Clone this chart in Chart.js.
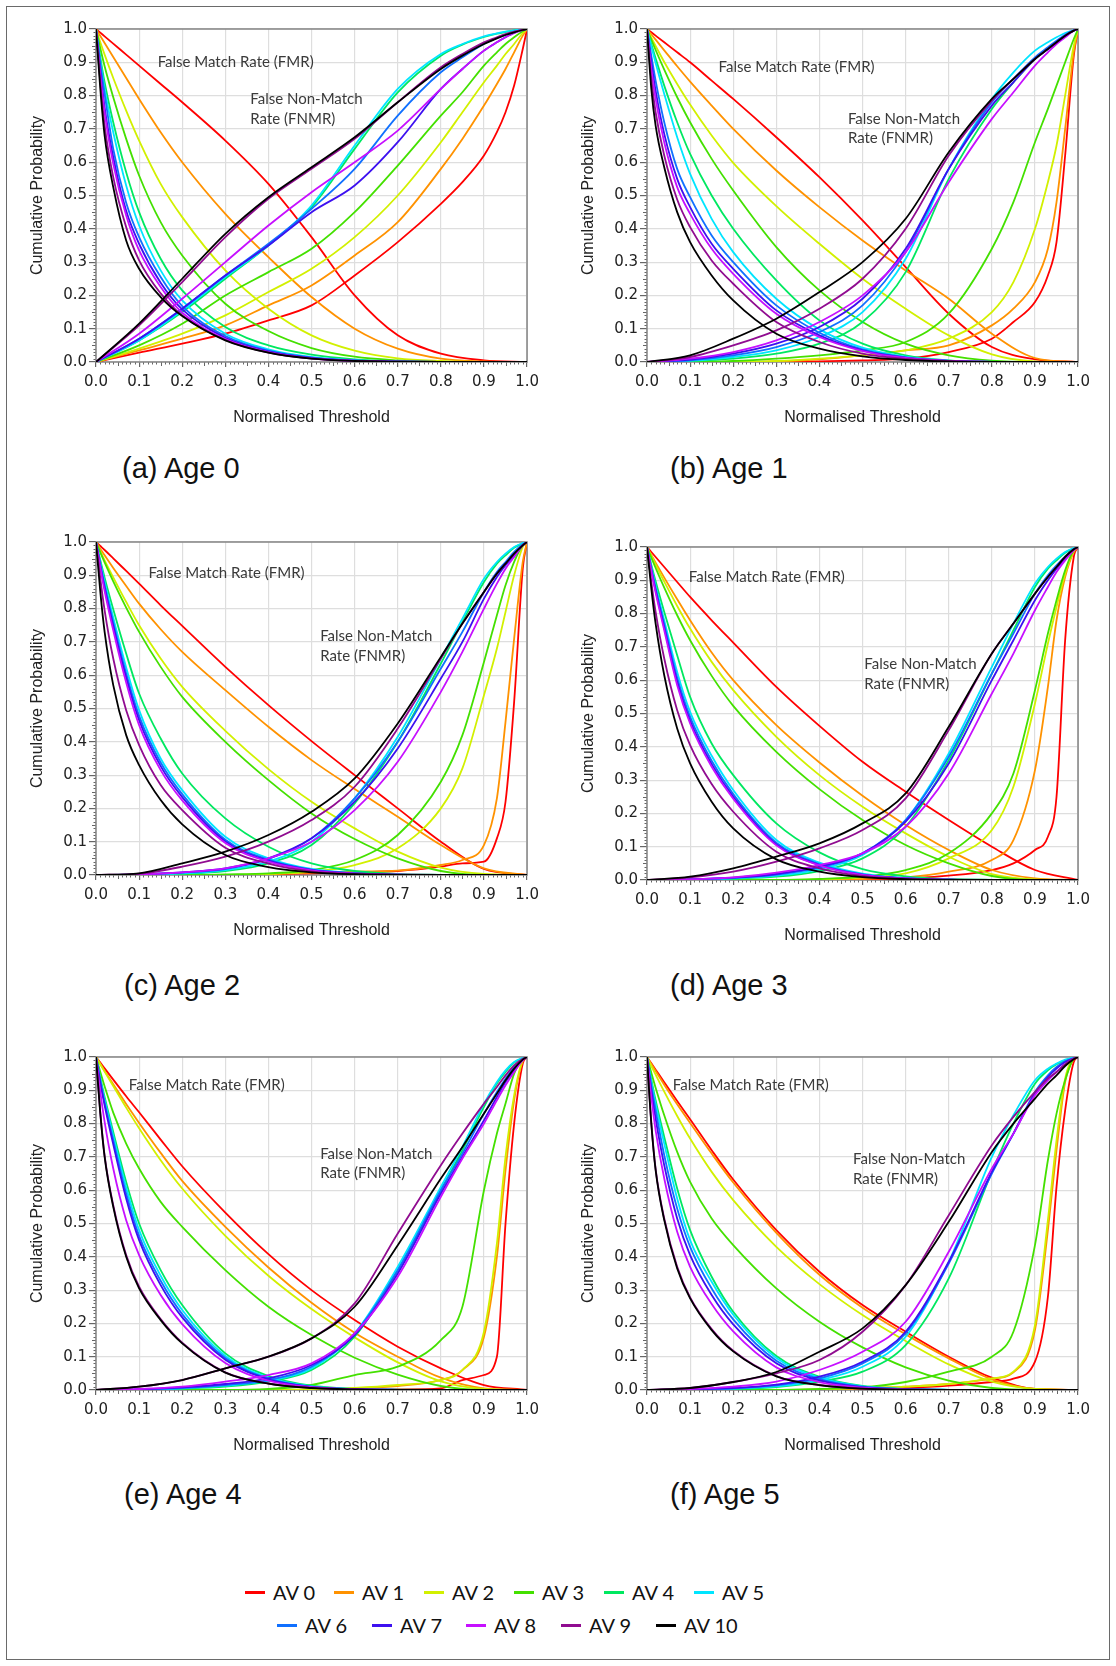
<!DOCTYPE html>
<html lang="en">
<head>
<meta charset="UTF-8">
<title>FMR / FNMR cumulative curves by age</title>
<script src="https://cdn.jsdelivr.net/npm/chart.js"></script>
<style>
    body { margin: 0; background: #fff; }
    .figure { position: relative; width: 1116px; height: 1666px; overflow: hidden; background: #fff; }
    .outline { position: absolute; left: 6px; top: 6px; width: 1104px; height: 1654px; border: 1px solid #6a6a6a; box-sizing: border-box; }
    .figure canvas { position: absolute; }
    .caption { position: absolute; font: 29px "Liberation Sans", Arial, sans-serif; line-height: 29px; color: #111; white-space: nowrap; }
    .legend-item { position: absolute; height: 24px; display: flex; align-items: center; font: 20px Lato, sans-serif; color: #111; white-space: nowrap; }
    .legend-item i { display: inline-block; width: 20px; height: 3px; margin-right: 8px; }
</style>
</head>
<body>
<div class="figure" id="figure">
    <div class="outline"></div>
</div>

<script>
    // thresholds at which each curve was sampled
    const thresholdFmr = [0, 0.01, 0.02, 0.04, 0.07, 0.1, 0.15, 0.2, 0.3, 0.4, 0.5, 0.6, 0.7, 0.8, 0.9, 1];
    const thresholdFnmr = [0, 0.1, 0.2, 0.3, 0.4, 0.5, 0.6, 0.7, 0.8, 0.85, 0.9, 0.93, 0.95, 0.97, 0.99, 1];
    const axisTicks = [0, 0.1, 0.2, 0.3, 0.4, 0.5, 0.6, 0.7, 0.8, 0.9, 1];
    const avLabels = ['AV 0', 'AV 1', 'AV 2', 'AV 3', 'AV 4', 'AV 5', 'AV 6', 'AV 7', 'AV 8', 'AV 9', 'AV 10'];
    const panelCaptions = ['(a) Age 0', '(b) Age 1', '(c) Age 2', '(d) Age 3', '(e) Age 4', '(f) Age 5'];

    // cumulative probability (%), one row per AV level (AV 0 .. AV 10)
    const fmrAge0 = [
        [100, 98.9, 97.8, 95.6, 92.3, 89, 83.5, 78, 66.5, 53.5, 37.5, 20, 8, 2.5, 0.5, 0],
        [100, 97.9, 95.8, 91.6, 85.3, 79, 69, 60, 44.5, 31.5, 19.5, 10, 4, 1, 0.2, 0],
        [100, 96, 92.3, 85.3, 75.5, 66.5, 53.5, 43.5, 27.5, 16, 8, 3.4, 1.1, 0.3, 0, 0],
        [100, 94.2, 88.8, 79.5, 67, 56, 42, 32, 17.5, 9.3, 4.2, 1.6, 0.5, 0, 0, 0],
        [100, 91.5, 84, 72, 57, 45, 31, 21.5, 10.5, 5, 2.2, 0.8, 0.25, 0.05, 0, 0],
        [100, 90.5, 82, 69, 53, 41, 27.5, 18.5, 8.5, 3.8, 1.5, 0.5, 0.15, 0, 0, 0],
        [100, 89.5, 80.5, 64, 47.8, 37.5, 25.5, 16.8, 7.8, 3.4, 1.3, 0.45, 0.12, 0, 0, 0],
        [100, 87.5, 76.5, 61.5, 45.4, 35.5, 23.8, 15.8, 7.3, 3.2, 1.2, 0.4, 0.1, 0, 0, 0],
        [100, 86, 75, 59.5, 44, 33.5, 22.5, 14.8, 6.9, 3, 1.1, 0.35, 0.1, 0, 0, 0],
        [100, 84, 71, 55.5, 40.5, 30.5, 20.6, 14, 6.6, 2.8, 1, 0.3, 0.08, 0, 0, 0],
        [100, 82, 68, 52.5, 36.5, 28, 19.5, 13.8, 6.5, 2.8, 1, 0.3, 0.08, 0, 0, 0]
    ];
    const fnmrAge0 = [
        [0, 2.8, 5.5, 8.5, 12.5, 17, 26, 36, 47.5, 54, 62, 69, 75, 83, 94, 100],
        [0, 3.5, 7, 11, 17, 23, 32, 42, 58, 67, 77, 83.5, 88, 93, 98, 100],
        [0, 4, 8.5, 14, 21, 28, 37.5, 50, 66, 75, 84, 89, 92.5, 95.5, 98.8, 100],
        [0, 5, 11.5, 20, 27, 34, 45, 59, 74, 81, 89, 93, 95.5, 97.5, 99.3, 100],
        [0, 6.5, 15, 25, 35, 46.5, 64, 81, 92, 95.3, 97.6, 98.6, 99.1, 99.6, 99.9, 100],
        [0, 6.5, 15.5, 25.5, 35, 47, 65, 82, 92.5, 95.5, 97.8, 98.7, 99.2, 99.6, 99.9, 100],
        [0, 7, 16, 26, 35.5, 46, 58, 74, 87, 91.5, 95.5, 97.3, 98.3, 99.2, 99.8, 100],
        [0, 7, 16, 26, 35, 45, 53, 66, 82, 88, 93.5, 96, 97.5, 98.8, 99.7, 100],
        [0, 8.5, 19, 30, 41, 51, 60, 69.5, 82, 88, 93.5, 96, 97.5, 98.8, 99.7, 100],
        [0, 11, 24, 37.5, 49, 58, 67, 78, 88.5, 92.5, 96, 97.5, 98.5, 99.2, 99.8, 100],
        [0, 11.5, 25, 38.5, 49.5, 58.5, 67.5, 78, 88, 92, 95.5, 97.2, 98.2, 99, 99.7, 100]
    ];

    const fmrAge1 = [
        [100, 99, 98, 96, 93, 90, 84.5, 79, 67.5, 55.5, 42.5, 28.5, 14.5, 4.5, 0.8, 0],
        [100, 98.4, 96.8, 93.6, 88.8, 84.2, 77, 70, 57.5, 46.5, 36.5, 27.5, 19, 8.5, 1.2, 0],
        [100, 97.4, 94.9, 90.1, 83.5, 77.3, 68, 59.8, 46.8, 35.5, 25, 16, 8, 2.3, 0.2, 0],
        [100, 96.8, 93.7, 87.8, 79.5, 72, 61, 51.5, 34.5, 21.5, 12, 5.5, 2, 0.4, 0, 0],
        [100, 95.5, 91.2, 83, 72, 62.5, 50, 40, 24.5, 12.5, 5.5, 2, 0.5, 0.1, 0, 0],
        [100, 94.8, 89.8, 80.5, 67.5, 56.5, 43, 33, 19, 9.8, 4.3, 1.6, 0.4, 0.05, 0, 0],
        [100, 92, 84.5, 72, 58, 49.5, 38, 30, 17, 8.8, 3.8, 1.4, 0.35, 0.05, 0, 0],
        [100, 90, 81.5, 68.5, 55, 46.5, 35.5, 28, 15.5, 8, 3.5, 1.3, 0.33, 0.05, 0, 0],
        [100, 88, 79, 66, 52.5, 44.5, 34, 26.5, 14.5, 7.5, 3.3, 1.2, 0.3, 0.05, 0, 0],
        [100, 85, 75, 62, 48.8, 40.5, 30.5, 23.5, 12, 6, 2.5, 0.9, 0.25, 0.03, 0, 0],
        [100, 82, 71, 58.5, 45, 36, 26, 18.5, 8.5, 4, 1.7, 0.6, 0.15, 0.02, 0, 0]
    ];
    const fnmrAge1 = [
        [0, 0, 0, 0, 0.2, 0.5, 1, 3, 7, 12, 18, 26, 36, 62, 92, 100],
        [0, 0, 0, 0.2, 0.8, 2, 3.5, 5, 11, 16, 24, 34, 48, 70, 93, 100],
        [0, 0, 0, 0.3, 1, 2, 3.5, 7, 15, 24, 40, 54, 65, 80, 95, 100],
        [0, 0, 0.3, 1, 2, 3.5, 6, 14.5, 34, 48, 66, 76, 83, 90, 97, 100],
        [0, 0.3, 1, 2.5, 5.5, 12, 27, 55, 76, 84, 91, 94, 96, 98, 99.5, 100],
        [0, 0.4, 1.5, 3.5, 7.5, 15, 31, 58, 79, 87, 93.5, 96, 97.5, 98.8, 99.7, 100],
        [0, 0.5, 2, 4.5, 9, 17, 33, 58, 78, 85, 91.5, 94.5, 96.5, 98.3, 99.6, 100],
        [0, 0.7, 2.5, 5.5, 10.5, 19, 34, 58, 77, 84, 91, 94, 96, 98, 99.5, 100],
        [0, 1, 3, 6.5, 12, 20, 33, 54, 73, 81, 89, 93, 95.5, 97.5, 99.5, 100],
        [0, 1.5, 5, 9.5, 16, 25, 40, 62, 78.5, 85, 91, 94, 96, 98, 99.5, 100],
        [0, 2, 7, 13, 21, 30, 43, 63, 79, 85, 91, 94, 96, 98, 99.5, 100]
    ];

    const fmrAge2 = [
        [100, 98.8, 97.6, 95.1, 91.3, 87.5, 81, 74.8, 62.5, 51, 40.2, 30, 20, 10, 1.8, 0],
        [100, 98, 96, 92.2, 86.8, 81.5, 73.8, 67, 55.5, 44.5, 34.5, 25.8, 17.5, 9, 2, 0],
        [100, 97.2, 94.5, 89.4, 82, 75, 65, 56.5, 43.3, 31.8, 22, 14, 7, 2.2, 0.3, 0],
        [100, 96.9, 93.9, 88.2, 80.3, 73, 62.5, 53.5, 40, 28.5, 18.5, 10.8, 5, 1.2, 0, 0],
        [100, 94.5, 89.3, 79.8, 66.5, 54.5, 41, 30.5, 17, 8.5, 3.5, 1.2, 0.3, 0.05, 0, 0],
        [100, 93.8, 88, 77.3, 62.3, 49.5, 35, 25.5, 11.5, 5, 1.8, 0.55, 0.12, 0, 0, 0],
        [100, 93.3, 87, 75.8, 60.5, 47.8, 33.8, 24.3, 10.6, 4.6, 1.6, 0.5, 0.1, 0, 0, 0],
        [100, 92.8, 86.2, 74.8, 59.3, 46.5, 32.7, 23.4, 10.1, 4.3, 1.5, 0.45, 0.1, 0, 0, 0],
        [100, 92.3, 85.3, 73.5, 57.8, 45, 31.5, 22.4, 9.6, 4, 1.4, 0.4, 0.1, 0, 0, 0],
        [100, 89, 79.5, 65, 49.5, 39, 27, 19.5, 8.2, 3.4, 1.1, 0.33, 0.08, 0, 0, 0],
        [100, 85, 73, 57, 42, 33, 22.5, 15.2, 6, 2.4, 0.8, 0.22, 0.05, 0, 0, 0]
    ];
    const fnmrAge2 = [
        [0, 0, 0, 0, 0.2, 0.5, 0.8, 1.2, 2.5, 3.5, 4, 11, 22, 52, 92, 100],
        [0, 0, 0, 0, 0.2, 0.7, 1, 1.3, 3, 4.5, 9, 23, 46, 71, 94, 100],
        [0, 0, 0, 0, 0.3, 1, 3, 8, 20, 32, 54, 68, 79, 90, 98.5, 100],
        [0, 0, 0, 0.2, 0.5, 1.5, 4.5, 12, 28, 42, 64, 78, 87, 94, 99, 100],
        [0, 0.1, 0.4, 1.2, 3.5, 9, 21.5, 40, 63.5, 76, 88, 93.5, 96, 98.3, 99.6, 100],
        [0, 0.1, 0.5, 1.5, 4, 10, 23, 41.5, 65, 77, 89, 94, 96.5, 98.5, 99.7, 100],
        [0, 0.2, 0.7, 1.8, 4.8, 11, 23, 40, 62, 73, 85, 91, 94, 97, 99.3, 100],
        [0, 0.2, 0.8, 2, 5, 11, 22, 38, 59, 70, 83, 89.5, 93, 96, 99, 100],
        [0, 0.2, 0.8, 2, 5, 10, 19.5, 34, 55, 67, 80, 87.5, 92, 95.5, 99, 100],
        [0, 0.4, 2.5, 5.5, 10, 16.5, 26.5, 44, 65, 75.5, 85, 90.5, 93.5, 96.5, 99, 100],
        [0, 0.5, 3.5, 7, 12, 19, 29, 45.5, 65.5, 75.5, 85, 90.5, 93.5, 96.5, 99, 100]
    ];

    const fmrAge3 = [
        [100, 98.5, 97, 94, 89.5, 85, 78, 71.3, 58, 46.3, 35.5, 26.5, 18, 10, 3, 0],
        [100, 97.6, 95.3, 90.8, 84.3, 78, 68.3, 60, 46.5, 35.3, 25.3, 16.5, 9, 3, 0.5, 0],
        [100, 97.3, 94.7, 89.6, 82.3, 75.5, 65.5, 57, 43, 31.5, 22, 14, 7, 1.8, 0.2, 0],
        [100, 96.8, 93.7, 87.8, 79.5, 72, 61.3, 52.3, 38.5, 27.3, 18, 10.5, 5, 1.2, 0, 0],
        [100, 94.7, 89.7, 80.5, 67.5, 55, 41, 31.5, 17, 8.3, 3.3, 1.1, 0.3, 0.05, 0, 0],
        [100, 94, 88.3, 78, 62.5, 50.5, 37.3, 27, 12, 5.2, 1.9, 0.6, 0.13, 0, 0, 0],
        [100, 93.6, 87.6, 76.8, 60.8, 49, 35.8, 25.8, 11.2, 4.8, 1.7, 0.55, 0.12, 0, 0, 0],
        [100, 93.2, 86.9, 75.8, 59.5, 47.8, 34.8, 25, 10.7, 4.5, 1.6, 0.5, 0.1, 0, 0, 0],
        [100, 92.8, 86.3, 75, 58.5, 47, 34, 24.4, 10.4, 4.4, 1.5, 0.48, 0.1, 0, 0, 0],
        [100, 89.5, 80.5, 66.5, 51, 40.5, 28.8, 20.5, 8.5, 3.5, 1.2, 0.35, 0.08, 0, 0, 0],
        [100, 87.5, 77, 61.5, 45.5, 35, 23.5, 15.5, 6.2, 2.5, 0.85, 0.25, 0.05, 0, 0, 0]
    ];
    const fnmrAge3 = [
        [0, 0, 0, 0, 0, 0, 0.5, 1.3, 3, 5, 9, 13, 25, 72, 97, 100],
        [0, 0, 0, 0, 0, 0.3, 0.8, 2.5, 6, 12, 33, 58, 78, 91, 98.5, 100],
        [0, 0, 0, 0, 0.2, 0.8, 2, 6.5, 15, 28, 53, 71, 82, 92, 98.8, 100],
        [0, 0, 0, 0, 0.3, 1, 3, 8, 20, 32, 57, 74, 84, 93, 99, 100],
        [0, 0.1, 0.4, 1, 2.7, 6.5, 16, 36, 62, 75, 88, 93.5, 96, 98.3, 99.6, 100],
        [0, 0.1, 0.5, 1.3, 3.2, 7.5, 18, 38, 64, 77, 89, 94, 96.5, 98.5, 99.7, 100],
        [0, 0.2, 0.6, 1.6, 3.7, 8, 18, 37, 62, 74, 86, 91.5, 94.5, 97.2, 99.4, 100],
        [0, 0.2, 0.7, 1.8, 4, 8, 17.5, 35, 60, 72, 84, 90, 93.5, 96.5, 99.2, 100],
        [0, 0.2, 0.8, 2.2, 4.5, 8, 16, 32, 56, 68, 81, 88, 92.5, 96, 99, 100],
        [0, 0.8, 2.5, 5.5, 9.5, 15, 24.5, 45, 68, 77, 86, 91, 94, 97, 99.3, 100],
        [0, 1, 3.5, 7, 11, 17, 26, 46, 68, 77, 86, 91, 94, 97, 99.3, 100]
    ];

    const fmrAge4 = [
        [100, 98.3, 96.6, 93.2, 88.2, 83.4, 75.2, 67.2, 53.3, 40.8, 30, 21, 13, 6.5, 1.5, 0],
        [100, 97.9, 95.8, 91.8, 85.9, 80.2, 71.2, 62.8, 49, 36.8, 26.2, 17.2, 10, 3.7, 0.5, 0],
        [100, 97.8, 95.6, 91.3, 84.8, 78.6, 69, 60.5, 46.3, 34.3, 24.3, 15.8, 8.3, 2.6, 0.3, 0],
        [100, 95.5, 91.2, 83.3, 74, 66.5, 56.5, 49, 36, 25, 16.5, 9.7, 4.6, 1.2, 0, 0],
        [100, 93.8, 88, 77.5, 62.5, 50, 36, 25.5, 11, 4.2, 1.3, 0.35, 0.07, 0, 0, 0],
        [100, 93.3, 87.2, 76.3, 60.8, 48, 34.3, 24, 10.2, 3.7, 1.1, 0.3, 0.06, 0, 0, 0],
        [100, 92.8, 86.3, 75, 59, 46.3, 32.8, 22.8, 9.6, 3.4, 1, 0.28, 0.05, 0, 0, 0],
        [100, 92.3, 85.5, 73.8, 57.5, 45, 31.5, 21.8, 9.1, 3.2, 0.95, 0.26, 0.05, 0, 0, 0],
        [100, 89.5, 80.5, 66.5, 51, 40.5, 28.5, 19.8, 8.1, 2.8, 0.85, 0.22, 0.04, 0, 0, 0],
        [100, 83.3, 70.4, 55.5, 40.5, 31, 21.3, 14.2, 5.3, 1.95, 0.62, 0.16, 0.03, 0, 0, 0],
        [100, 83, 70, 55, 40, 30.5, 21, 14, 5.2, 1.9, 0.6, 0.15, 0.03, 0, 0, 0]
    ];
    const fnmrAge4 = [
        [0, 0, 0, 0, 0, 0, 0, 0.2, 0.5, 3, 4.5, 10, 50, 80, 98, 100],
        [0, 0, 0, 0, 0, 0.2, 0.5, 1.2, 3, 6, 16, 40, 66, 87, 98.8, 100],
        [0, 0, 0, 0, 0, 0.2, 0.6, 1.5, 3, 6, 17.5, 44, 70, 88.5, 99, 100],
        [0, 0, 0, 0, 0.3, 1.5, 4.5, 7, 15, 25, 60, 77, 86, 95, 99.5, 100],
        [0, 0.1, 0.4, 1, 2.5, 6, 16, 36, 60, 72, 85, 92, 95.5, 98.3, 99.7, 100],
        [0, 0.1, 0.5, 1.3, 2.8, 6.5, 17, 37, 61, 73, 86, 92.5, 96, 98.5, 99.7, 100],
        [0, 0.2, 0.6, 1.5, 3, 7, 17, 36, 60, 71, 83, 89.5, 93.5, 97, 99.4, 100],
        [0, 0.2, 0.8, 1.8, 3.5, 7.5, 16.5, 35, 59, 70, 81, 88, 92.5, 96, 99.2, 100],
        [0, 0.3, 1, 2.5, 4.5, 8, 17, 34, 58, 69.5, 80, 87, 91.5, 95.5, 99, 100],
        [0, 1, 3, 6.5, 10, 15.5, 26, 47, 67.5, 77, 86, 91, 94.5, 97.5, 99.5, 100],
        [0, 1, 3, 6.5, 10, 15.5, 25, 43.5, 63.5, 73, 83, 89, 93, 96.5, 99.2, 100]
    ];

    const fmrAge5 = [
        [100, 98.1, 96.2, 92.4, 86.8, 81.3, 72, 63.2, 48, 35.5, 25.5, 17.5, 10, 3.7, 0.3, 0],
        [100, 97.9, 95.8, 91.7, 85.8, 80.2, 71, 62.3, 47.2, 34.6, 24.7, 16.7, 9.5, 3.2, 0.3, 0],
        [100, 97.3, 94.7, 89.6, 82.3, 75.5, 65.5, 57, 43, 31.8, 22.5, 14.7, 7.7, 2.5, 0.3, 0],
        [100, 95.3, 90.8, 82.5, 71.5, 62.5, 51.5, 43.5, 30.5, 20.5, 12.8, 6.8, 2.8, 0.6, 0, 0],
        [100, 93.3, 87, 76, 60.5, 48, 34, 23.5, 10.2, 4, 1.2, 0.33, 0.06, 0, 0, 0],
        [100, 92.6, 85.8, 74, 57.5, 45, 32.5, 22.6, 9.6, 3.7, 1.1, 0.3, 0.05, 0, 0, 0],
        [100, 91.5, 84, 70.5, 54.5, 43, 30.5, 21.2, 8.8, 3.3, 1, 0.27, 0.05, 0, 0, 0],
        [100, 90, 81.5, 67.5, 51.5, 40.5, 28.5, 19.7, 8, 2.9, 0.88, 0.24, 0.04, 0, 0, 0],
        [100, 88, 78, 63.5, 47.5, 37, 25.8, 17.6, 6.8, 2.4, 0.72, 0.2, 0.03, 0, 0, 0],
        [100, 80.3, 66.4, 51.5, 37, 27.8, 18.3, 11.8, 4.2, 1.5, 0.42, 0.1, 0.02, 0, 0, 0],
        [100, 80, 66, 51, 36.5, 27.5, 18, 11.6, 4.1, 1.45, 0.4, 0.1, 0.02, 0, 0, 0]
    ];
    const fnmrAge5 = [
        [0, 0, 0, 0, 0, 0.2, 0.6, 1.3, 2.4, 3.4, 8.5, 28, 61, 84, 98.5, 100],
        [0, 0, 0, 0, 0.2, 0.5, 1, 1.8, 3.4, 5.3, 18, 48, 72, 92.5, 99.3, 100],
        [0, 0, 0, 0, 0.2, 0.5, 1, 1.8, 3.5, 5.5, 19.5, 51, 75, 93.5, 99.5, 100],
        [0, 0, 0, 0, 0.3, 0.8, 2.4, 5.5, 10, 17.5, 43.5, 69, 83, 93, 99.5, 100],
        [0, 0.1, 0.3, 0.9, 2.5, 5.5, 13.5, 33.5, 65.5, 80, 92, 96, 97.8, 99, 99.8, 100],
        [0, 0.1, 0.4, 1.1, 3, 7, 16, 38.5, 70, 82.5, 93, 96.5, 98, 99.2, 99.8, 100],
        [0, 0.2, 0.5, 1.4, 3.5, 8, 17, 38, 65, 77, 89.5, 94.5, 97, 98.7, 99.7, 100],
        [0, 0.2, 0.6, 1.6, 4, 8.5, 17.5, 38.5, 65.5, 77, 89, 94, 96.5, 98.5, 99.6, 100],
        [0, 0.3, 1, 2.5, 6, 11.5, 20.5, 41.5, 66.5, 77, 88.5, 93, 95.5, 97.8, 99.5, 100],
        [0, 0.6, 2.4, 5, 9, 17.5, 31.5, 52.5, 73.5, 82, 89.5, 93.5, 95.5, 97.8, 99.5, 100],
        [0, 0.6, 2.4, 5.4, 11.5, 18.5, 31.5, 50.5, 71.5, 80, 87.5, 92, 94.5, 97.3, 99.3, 100]
    ];

    const fmrByAge = [fmrAge0, fmrAge1, fmrAge2, fmrAge3, fmrAge4, fmrAge5];
    const fnmrByAge = [fnmrAge0, fnmrAge1, fnmrAge2, fnmrAge3, fnmrAge4, fnmrAge5];

    // styling and layout
    const avColors = ['#ff0000', '#ff9200', '#d2f000', '#44e000', '#00e860', '#00e5ff',
                      '#1070ff', '#3d10f0', '#c610ff', '#900c90', '#000000'];
    const PLOT_W = 433, PLOT_H = 333;
    const panelBoxes = [[96, 29], [647, 29], [96, 542], [647, 547], [96, 1057], [647, 1057]];
    const captionSpots = [[122, 454], [670, 454], [124, 971], [670, 971], [124, 1480], [670, 1480]];
    // curve labels in data units: FMR [x, y], FNMR [x, y line 1, y line 2]
    const noteSpots = [
        [[0.143, 0.901], [0.358, 0.79, 0.73]],
        [[0.166, 0.886], [0.466, 0.73, 0.673]],
        [[0.122, 0.907], [0.52, 0.718, 0.658]],
        [[0.097, 0.91], [0.504, 0.649, 0.589]],
        [[0.076, 0.916], [0.52, 0.709, 0.652]],
        [[0.06, 0.916], [0.478, 0.694, 0.634]]
    ];
    const legendSpots = [[245, 1580], [334, 1580], [424, 1580], [514, 1580], [604, 1580], [694, 1580],
                         [277, 1613], [372, 1613], [466, 1613], [561, 1613], [656, 1613]];

    const figure = document.getElementById('figure');

    // frame, minor ticks and the two curve-family labels
    const panelDecor = {
        id: 'panelDecor',
        beforeDatasetsDraw(chart) {
            const { ctx, chartArea: a, scales: { x, y } } = chart;
            ctx.save();
            ctx.strokeStyle = '#666';
            ctx.lineWidth = 1;
            ctx.beginPath();
            for (let k = 1; k < 100; k++) {
                if (k % 10 === 0) continue;
                const len = k % 5 === 0 ? 4 : 2.5;
                const px = Math.round(x.getPixelForValue(k / 100)) + 0.5;
                ctx.moveTo(px, a.bottom);
                ctx.lineTo(px, a.bottom + len);
                const py = Math.round(y.getPixelForValue(k / 100)) + 0.5;
                ctx.moveTo(a.left, py);
                ctx.lineTo(a.left - len, py);
            }
            ctx.stroke();
            ctx.strokeStyle = '#858585';
            ctx.lineWidth = 1.5;
            ctx.strokeRect(a.left, a.top, a.right - a.left, a.bottom - a.top);
            ctx.restore();
        },
        afterDatasetsDraw(chart, args, opts) {
            const { ctx, scales: { x, y } } = chart;
            const [fmr, fnmr] = opts.notes;
            ctx.save();
            ctx.font = '15px Lato, sans-serif';
            ctx.fillStyle = '#3a3a3a';
            ctx.textAlign = 'left';
            ctx.textBaseline = 'middle';
            ctx.fillText('False Match Rate (FMR)', x.getPixelForValue(fmr[0]), y.getPixelForValue(fmr[1]));
            ctx.fillText('False Non-Match', x.getPixelForValue(fnmr[0]), y.getPixelForValue(fnmr[1]));
            ctx.fillText('Rate (FNMR)', x.getPixelForValue(fnmr[0]), y.getPixelForValue(fnmr[2]));
            ctx.restore();
        }
    };

    function curve(label, xs, ys, k) {
        return {
            label,
            data: xs.map((t, j) => ({ x: t, y: ys[j] / 100 })),
            borderColor: avColors[k],
            backgroundColor: avColors[k],
            borderWidth: 1.8,
            pointRadius: 0,
            fill: false,
            cubicInterpolationMode: 'monotone',
            order: 10 - k
        };
    }

    function axis(titleText, isX) {
        return {
            type: 'linear',
            min: 0,
            max: 1,
            afterBuildTicks: s => { s.ticks = axisTicks.map(v => ({ value: v })); },
            afterFit: s => { if (isX) s.height = 70; else s.width = 80; },
            ticks: {
                autoSkip: false,
                maxRotation: 0,
                padding: isX ? 6 : 2,
                color: '#222',
                font: { family: 'DejaVu Sans', size: 15 },
                callback: v => Number(v).toFixed(1)
            },
            grid: { color: '#dedede', lineWidth: 1.2, tickLength: isX ? 5 : 7, tickColor: '#666' },
            border: { display: false },
            title: {
                display: true,
                text: titleText,
                color: '#222',
                font: { family: 'Liberation Sans', size: 16 },
                padding: isX ? { top: 0, bottom: 5 } : { top: 12, bottom: 0 }
            }
        };
    }

    function buildPanel(i) {
        const canvas = document.createElement('canvas');
        canvas.width = PLOT_W + 96;
        canvas.height = PLOT_H + 82;
        canvas.style.left = (panelBoxes[i][0] - 80) + 'px';
        canvas.style.top = (panelBoxes[i][1] - 12) + 'px';
        figure.appendChild(canvas);

        const datasets = [];
        avLabels.forEach((name, k) => {
            datasets.push(curve(name + ' FMR', thresholdFmr, fmrByAge[i][k], k));
            datasets.push(curve(name + ' FNMR', thresholdFnmr, fnmrByAge[i][k], k));
        });

        new Chart(canvas, {
            type: 'line',
            data: { datasets },
            options: {
                responsive: false,
                animation: false,
                events: [],
                layout: { padding: { left: 0, top: 12, right: 16, bottom: 0 } },
                plugins: {
                    legend: { display: false },
                    tooltip: { enabled: false },
                    panelDecor: { notes: noteSpots[i] }
                },
                scales: {
                    x: axis('Normalised Threshold', true),
                    y: axis('Cumulative Probability', false)
                }
            },
            plugins: [panelDecor]
        });

        const cap = document.createElement('div');
        cap.className = 'caption';
        cap.textContent = panelCaptions[i];
        cap.style.left = captionSpots[i][0] + 'px';
        cap.style.top = captionSpots[i][1] + 'px';
        figure.appendChild(cap);
    }

    panelCaptions.forEach((c, i) => buildPanel(i));

    // shared legend below the panels
    avLabels.forEach((name, k) => {
        const item = document.createElement('div');
        item.className = 'legend-item';
        item.style.left = legendSpots[k][0] + 'px';
        item.style.top = legendSpots[k][1] + 'px';
        item.innerHTML = '<i style="background:' + avColors[k] + '"></i>' + name;
        figure.appendChild(item);
    });
</script>
</body>
</html>
